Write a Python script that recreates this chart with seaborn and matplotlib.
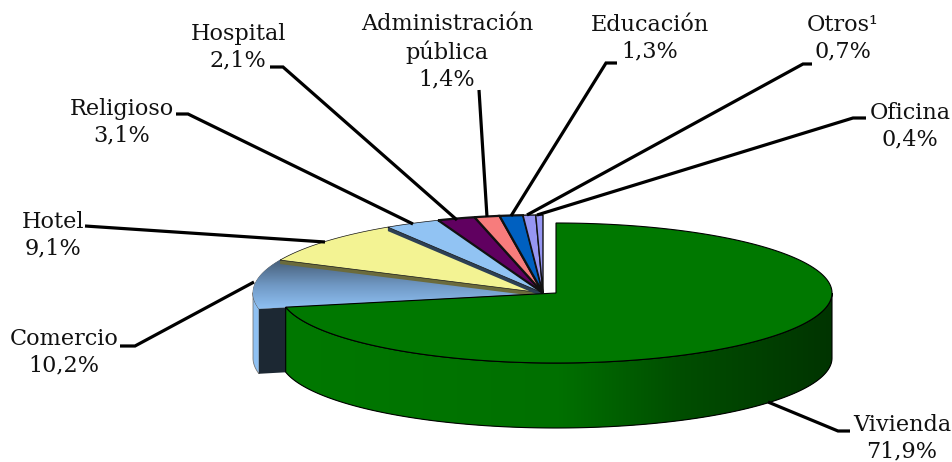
import numpy as np
import matplotlib
matplotlib.use("Agg")
import matplotlib.pyplot as plt
from matplotlib.colors import LinearSegmentedColormap
from matplotlib.patches import Polygon
import seaborn as sns

# ---- data ----
categories = ["Vivienda", "Comercio", "Hotel", "Religioso", "Hospital",
              "Administración\npública", "Educación", "Otros¹", "Oficina"]
values = [71.9, 10.2, 9.1, 3.1, 2.1, 1.4, 1.3, 0.7, 0.4]
value_labels = ["71,9%", "10,2%", "9,1%", "3,1%", "2,1%", "1,4%", "1,3%", "0,7%", "0,4%"]

# ---- style ----
colors = ["#007800", "#8fc1f3", "#f3f393", "#91c3f3", "#600060",
          "#f77c7c", "#0060c0", "#9696f3", "#9696f3"]
sns.set_theme(style="white")
plt.rcParams["font.family"] = ["DejaVu Serif"]

W, H = 953, 462
fig = plt.figure(figsize=(W / 100, H / 100), dpi=100)
ax = fig.add_axes([0, 0, 1, 1])

# projection of the tilted pie, in pixels
C_MAIN = (556, 293, 276, 70)
C_REST = (543, 293, 290, 78)
DEPTH = 65

cum = np.concatenate([[0], np.cumsum(values)]) / np.sum(values)
ang = 90 - 360 * cum          # clockwise from twelve o'clock, degrees


def rim(c, a0, a1, n=200):
    t = np.radians(np.linspace(a0, a1, n))
    return np.c_[c[0] + c[2] * np.cos(t), c[1] - c[3] * np.sin(t)]


def wedge(c, a0, a1):
    return np.vstack([[c[0], c[1]], rim(c, a0, a1)])


def add_poly(pts, fc, ec="none", lw=0.0, z=2):
    p = Polygon(pts, closed=True, facecolor=fc, edgecolor=ec, linewidth=lw, zorder=z)
    ax.add_patch(p)
    return p


def gradient(poly, stops, horizontal, z):
    xy = poly.get_xy()
    x0, x1, y0, y1 = xy[:, 0].min(), xy[:, 0].max(), xy[:, 1].min(), xy[:, 1].max()
    cmap = LinearSegmentedColormap.from_list("g", stops)
    arr = np.linspace(0, 1, 256)
    arr = arr[None, :] if horizontal else arr[:, None]
    im = ax.imshow(arr, cmap=cmap, extent=(x0, x1, y1, y0), aspect="auto",
                   origin="upper", zorder=z, interpolation="bilinear")
    im.set_clip_path(poly)


def side_face(c, a0, a1, depth):
    top = rim(c, a0, a1)
    return np.vstack([top, (top + [0, depth])[::-1]])


def radial_face(c, a, depth):
    p = rim(c, a, a, 1)[0]
    apex = np.array(c[:2], float)
    return np.array([apex, p, p + [0, depth], apex + [0, depth]])


# Comercio: outer wall, dark cut face, gradient top
add_poly(side_face(C_REST, ang[1] - 12, ang[1], DEPTH), "#8fc1f3", "#777777", 0.6, 2)
add_poly(radial_face(C_REST, ang[1], DEPTH), "#1c2833", z=3)
comercio = add_poly(wedge(C_REST, ang[1], ang[2]), colors[1], "#555555", 0.5, 4)
gradient(comercio, [(0, "#465e78"), (0.5, "#6f97c2"), (1, "#8fc1f3")], False, 4.1)

# Remaining slices, with the narrow cut faces showing below them
strips = {2: ("#6b6b3c", 4), 3: ("#2d4055", 4)}
for i in range(2, len(values)):
    if i in strips:
        fc, d = strips[i]
        add_poly(radial_face(C_REST, ang[i], d), fc, z=5 + i * 0.1)
    thick = 1.0 if i >= 7 else (1.6 if i >= 4 else 0.5)
    add_poly(wedge(C_REST, ang[i], ang[i + 1]), colors[i], "#111111", thick, 5 + i * 0.1 + 0.05)

# Vivienda: wall with horizontal shading, then flat top
wall = add_poly(side_face(C_MAIN, 0, ang[1], DEPTH), colors[0], "none", 0.0, 8)
gradient(wall, [(0, "#007800"), (0.5, "#007000"), (0.72, "#004e00"), (1, "#003400")], True, 8.1)
add_poly(side_face(C_MAIN, 0, ang[1], DEPTH), "none", "#000000", 0.8, 8.2)
add_poly(wedge(C_MAIN, ang[0], ang[1]), colors[0], "#000000", 0.8, 9)

# Leader lines
leaders = [
    [(850, 431), (838, 431), (768, 402)],
    [(120, 346), (135, 346), (254, 282)],
    [(85, 226), (100, 227), (325, 242)],
    [(176, 114), (188, 114), (413, 224)],
    [(270, 67), (283, 67), (457, 220)],
    [(479, 90), (487, 217)],
    [(617, 63), (606, 63), (511, 216)],
    [(812, 64), (803, 64), (527, 215)],
    [(866, 118), (853, 118), (537, 215)],
]
for pts in leaders:
    xs, ys = zip(*pts)
    ax.plot(xs, ys, color="black", lw=2.3, solid_capstyle="butt",
            solid_joinstyle="miter", zorder=12)

# Labels
label_pos = [(902, 438), (64, 352), (53, 235), (122, 122), (238, 47),
             (447, 52), (650, 38), (843, 38), (910, 126)]
for name, val, (x, y) in zip(categories, value_labels, label_pos):
    ax.text(x, y, f"{name}\n{val}", ha="center", va="center", fontsize=16.1,
            color="#111111", linespacing=1.28, zorder=13)

ax.set_xlim(0, W)
ax.set_ylim(H, 0)
ax.axis("off")
fig.savefig("out.png", dpi=100, facecolor="white")
